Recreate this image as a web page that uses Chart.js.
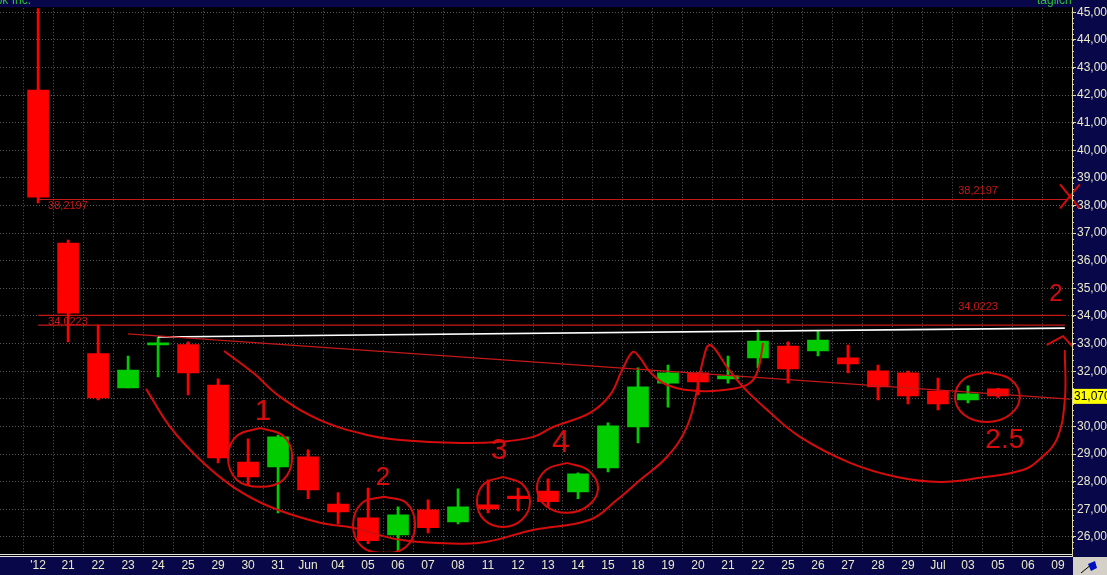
<!DOCTYPE html>
<html>
<head>
<meta charset="utf-8">
<script src="https://cdn.jsdelivr.net/npm/chart.js@4.4.1/dist/chart.umd.min.js"></script>
<style>
  html,body{margin:0;padding:0;background:#000;overflow:hidden}
  canvas{display:block}
</style>
</head>
<body>
<canvas id="chart" width="1107" height="575"></canvas>
<script>
// ── DATOS ───────────────────────────────────────────────
const X_LABELS = ["'12",'21','22','23','24','25','29','30','31','Jun','04','05','06','07','08','11','12','13','14','15',
                  '18','19','20','21','22','25','26','27','28','29','Jul','03','05','06','09'];

const OPEN  = [42.18,36.64,32.64,31.39,32.95,32.96,31.50,28.71,28.53,28.90,27.19,26.69,26.07,26.98,26.54,27.16,27.48,
               27.66,27.63,28.50,29.98,31.57,31.94,31.72,32.48,32.91,32.73,32.48,32.01,31.94,31.28,30.96,31.36];
const HIGH  = [45.15,36.75,33.67,32.55,33.24,33.06,31.72,29.55,29.69,29.15,27.60,27.77,27.09,27.34,27.74,28.06,27.77,
               28.10,28.32,30.13,32.12,32.22,31.96,32.55,33.49,33.06,33.46,32.95,32.22,32.00,31.75,31.47,31.38];
const LOW   = [38.10,33.06,30.96,31.39,31.79,31.14,28.68,27.88,26.87,27.38,26.47,25.75,25.49,26.14,26.47,26.87,26.94,
               27.09,27.38,28.35,29.40,30.70,31.15,31.57,32.12,31.57,32.55,31.94,30.96,30.81,30.60,30.85,31.05];
const CLOSE = [38.30,34.10,31.03,32.04,33.03,31.94,28.86,28.17,29.62,27.70,26.90,25.86,26.80,26.33,27.09,27.01,27.38,
               27.27,28.28,30.02,31.43,31.94,31.61,31.83,33.09,32.08,33.13,32.26,31.43,31.10,30.81,31.18,31.10];

const Y_TICKS = [26,27,28,29,30,31,32,33,34,35,36,37,38,39,40,41,42,43,44,45];
const X_MIN = -1.27, X_MAX = 34.47;
const Y_MIN = 25.45, Y_MAX = 45.15;

const FIB_LEVELS   = [38.2197, 34.0223];
const RESIST_LEVEL = 33.67;
const LAST_PRICE   = 31.07;

// líneas dibujadas (índice de vela, precio)
const TREND_RED   = [[3.0,33.35],[34.4,30.99]];
const TREND_WHITE = [[4.0,33.24],[34.23,33.56]];

const CUP_UPPER = [[6.2,32.73],[7.17,31.94],[8.07,31.07],[9.4,30.23],[10.97,29.69],[12.07,29.51],[14.07,29.40],
  [15.4,29.44],[16.5,29.62],[17.17,29.98],[18.4,30.49],[19.07,31.14],[19.47,32.04],[19.83,32.70],[20.07,32.48],
  [20.4,31.97],[20.97,31.50],[22.07,31.28],[23.17,31.36],[23.73,31.57],[24.0,32.04],[24.17,33.02]];
const CUP_LOWER = [[3.6,31.36],[4.4,29.98],[5.4,28.79],[6.5,27.81],[7.73,27.09],[9.4,26.51],[10.5,26.33],[12.07,25.89],
  [14.07,25.75],[14.97,25.82],[16.5,26.25],[18.4,26.62],[19.3,27.34],[20.07,28.06],[20.97,28.90],[21.63,29.98],
  [21.97,31.32],[22.17,32.41],[22.4,32.95],[22.97,32.15],[23.5,31.43],[24.3,30.60],[25.4,29.62],[27.07,28.68],
  [28.63,28.17],[30.07,27.99],[31.4,28.14],[32.83,28.42],[33.4,28.82],[33.97,29.55],[34.23,30.96],[34.23,32.77]];
const ARROW   = [[33.63,32.95],[34.17,33.27],[34.5,32.88]];
const CROSS_A = [[34.07,38.77],[34.73,37.90]];
const CROSS_B = [[34.73,38.77],[34.07,37.90]];

const RING_1 = [[7.4,29.94],[8.17,29.66],[8.47,28.90],[8.17,28.06],[7.4,27.81],[6.63,28.06],[6.33,28.90],[6.63,29.66],[7.4,29.94]];
const RING_2 = [[11.53,27.45],[12.27,27.23],[12.57,26.43],[12.27,25.64],[11.53,25.42],[10.8,25.64],[10.5,26.43],[10.8,27.23],[11.53,27.45]];
const RING_3 = [[15.5,28.17],[16.13,27.92],[16.4,27.27],[16.13,26.62],[15.5,26.36],[14.87,26.62],[14.63,27.27],[14.87,27.92],[15.5,28.17]];
const RING_4 = [[17.63,28.68],[18.33,28.42],[18.67,27.77],[18.33,27.12],[17.63,26.87],[16.93,27.12],[16.63,27.77],[16.93,28.42],[17.63,28.68]];
const RING_5 = [[31.63,31.97],[32.4,31.72],[32.73,31.07],[32.4,30.42],[31.63,30.16],[30.87,30.42],[30.57,31.07],[30.87,31.72],[31.63,31.97]];

const NOTE_TEXT = ['1','2','3','4','2.5','2'];
const NOTE_X    = [7.5, 11.5, 15.37, 17.43, 32.23, 33.93];
const NOTE_Y    = [30.52, 28.14, 29.11, 29.40, 29.51, 34.79];
const NOTE_SIZE = [30, 26, 30, 32, 28, 24];

// ── ESTILO ──────────────────────────────────────────────
const NAVY  = '#07074a';
const UP    = '#00cc00';
const DOWN  = '#ff0000';
const INK   = '#d60c0c';
const FIBC  = '#c41818';
const AXTXT = '#ecebc8';
const FONT  = 'Liberation Sans, Arial, sans-serif';

Chart.defaults.font.family = FONT;

// ── UTILS ───────────────────────────────────────────────
const pts = a => a.map(([x,y]) => ({ x, y }));
const fmt = v => v.toFixed(3).replace('.', ',');
const fmtFib = v => v.toFixed(4).replace('.', ',');
function stroke(arr, extra){
  return Object.assign({ type:'line', data:pts(arr), borderColor:INK, borderWidth:2, pointRadius:0,
                         tension:0.4, fill:false, order:0 }, extra || {});
}
function level(v, until){
  return { type:'line', data:[{x:0,y:v},{x:until,y:v}], borderColor:FIBC, borderWidth:1.2,
           pointRadius:0, tension:0, order:4 };
}

const candleColor = OPEN.map((o,i) => CLOSE[i] >= o ? UP : DOWN);
const bodies = OPEN.map((o,i) => ({ x:i, y:[Math.min(o,CLOSE[i]), Math.max(o,CLOSE[i])] }));
const wicks  = OPEN.map((o,i) => ({ x:i, y:[LOW[i], HIGH[i]] }));

// ── PLUGIN: marco, etiquetas, notas ─────────────────────
const frame = {
  id:'frame',
  beforeDraw(chart){
    const { ctx, chartArea:a, width, height } = chart;
    ctx.save();
    ctx.fillStyle = '#000';
    ctx.fillRect(0, 0, width, height);
    ctx.fillStyle = NAVY;
    ctx.fillRect(0, 0, width, a.top - 1);
    ctx.fillRect(a.right, 0, width - a.right, height);
    ctx.fillRect(0, a.bottom + 5, width, height - a.bottom - 5);
    // título recortado
    ctx.fillStyle = '#2fc02f';
    ctx.font = '12px ' + FONT;
    ctx.textBaseline = 'alphabetic';
    ctx.textAlign = 'right';
    ctx.fillText('Facebook Inc.', 31, 4);
    ctx.textAlign = 'left';
    ctx.fillText('täglich', 1037, 4);
    ctx.restore();
  },
  afterDatasetsDraw(chart){
    const { ctx } = chart;
    const xs = chart.scales.x, ys = chart.scales.y;
    ctx.save();
    ctx.font = '11px ' + FONT;
    ctx.fillStyle = FIBC;
    FIB_LEVELS.forEach(v => {
      const y = ys.getPixelForValue(v);
      ctx.textAlign = 'left'; ctx.textBaseline = 'top';
      ctx.fillText(fmtFib(v), xs.getPixelForValue(0) + 10, y + 1);
      ctx.textAlign = 'right'; ctx.textBaseline = 'bottom';
      ctx.fillText(fmtFib(v), xs.getPixelForValue(32), y - 3);
    });
    ctx.fillStyle = INK;
    ctx.textAlign = 'center'; ctx.textBaseline = 'middle';
    NOTE_TEXT.forEach((t,i) => {
      ctx.font = NOTE_SIZE[i] + 'px ' + FONT;
      ctx.fillText(t, xs.getPixelForValue(NOTE_X[i]), ys.getPixelForValue(NOTE_Y[i]));
    });
    ctx.restore();
  },
  afterDraw(chart){
    const { ctx, chartArea:a, width, height } = chart;
    const ys = chart.scales.y;
    ctx.save();
    // borde del eje de precios
    ctx.strokeStyle = '#dcd8a0';
    ctx.lineWidth = 1;
    ctx.beginPath();
    ctx.moveTo(a.right + 0.5, a.top - 1); ctx.lineTo(a.right + 0.5, a.bottom + 5);
    ctx.stroke();
    // subdivisiones
    ctx.beginPath();
    for (let k = Math.ceil(Y_MIN * 5); k <= Math.floor(Y_MAX * 5); k++) {
      const y = Math.round(ys.getPixelForValue(k / 5)) + 0.5;
      ctx.moveTo(a.right, y); ctx.lineTo(a.right + 2, y);
    }
    ctx.stroke();
    // doble línea del eje de fechas
    ctx.strokeStyle = '#e4e4e4';
    ctx.beginPath();
    ctx.moveTo(0, a.bottom + 2.5); ctx.lineTo(a.right, a.bottom + 2.5);
    ctx.moveTo(0, a.bottom + 4.5); ctx.lineTo(a.right, a.bottom + 4.5);
    ctx.stroke();
    // último precio
    const py = ys.getPixelForValue(LAST_PRICE);
    ctx.fillStyle = '#ffff00';
    ctx.fillRect(a.right + 1, py - 8, width - a.right - 1, 15);
    ctx.fillStyle = '#000';
    ctx.font = '12px ' + FONT;
    ctx.textAlign = 'left'; ctx.textBaseline = 'middle';
    ctx.fillText(fmt(LAST_PRICE), a.right + 2, py);
    // esquina
    ctx.fillStyle = '#d4d0c8';
    ctx.fillRect(a.right + 1, a.bottom + 5, width - a.right - 1, height - a.bottom - 5);
    ctx.strokeStyle = '#000';
    ctx.beginPath(); ctx.moveTo(a.right + 9, height - 2); ctx.lineTo(a.right + 20, a.bottom + 12); ctx.stroke();
    ctx.fillStyle = '#0010c0';
    ctx.beginPath();
    ctx.moveTo(a.right + 16, a.bottom + 12); ctx.lineTo(a.right + 23, a.bottom + 9);
    ctx.lineTo(a.right + 25, a.bottom + 16); ctx.lineTo(a.right + 19, a.bottom + 19);
    ctx.closePath(); ctx.fill();
    ctx.restore();
  }
};

// ── GRÁFICO ─────────────────────────────────────────────
new Chart(document.getElementById('chart'), {
  type:'bar',
  data:{
    datasets:[
      { type:'bar', data:wicks,  backgroundColor:candleColor, barThickness:2,  maxBarThickness:2,
        grouped:false, borderWidth:0, order:3 },
      { type:'bar', data:bodies, backgroundColor:candleColor, barThickness:21, maxBarThickness:21,
        grouped:false, borderWidth:0, order:2 },
      level(FIB_LEVELS[0], 34.33),
      level(FIB_LEVELS[1], 34.23),
      level(RESIST_LEVEL, 34.23),
      stroke(TREND_RED,   { borderWidth:1.2, borderColor:FIBC, tension:0, order:1 }),
      stroke(TREND_WHITE, { borderWidth:1.6, borderColor:'#ffffff', tension:0, order:1 }),
      stroke(CUP_UPPER),
      stroke(CUP_LOWER),
      stroke(ARROW,   { tension:0, clip:false }),
      stroke(CROSS_A, { tension:0, clip:false }),
      stroke(CROSS_B, { tension:0, clip:false }),
      stroke(RING_1), stroke(RING_2), stroke(RING_3), stroke(RING_4), stroke(RING_5)
    ]
  },
  options:{
    responsive:false,
    animation:false,
    layout:{ padding:{ top:8, left:0, right:0, bottom:0 } },
    plugins:{ legend:{ display:false }, tooltip:{ enabled:false } },
    scales:{
      x:{
        type:'linear', min:X_MIN, max:X_MAX, offset:false,
        afterBuildTicks: s => { s.ticks = X_LABELS.map((l,i) => ({ value:i })); },
        afterFit: s => { s.height = 23; },
        ticks:{ callback: v => X_LABELS[v] ?? '', color:AXTXT, font:{ size:12 }, padding:6,
                autoSkip:false, maxRotation:0, minRotation:0 },
        grid:{ color:'#585858', drawTicks:false, lineWidth:1 },
        border:{ display:false, dash:[1,2] }
      },
      y:{
        position:'right', min:Y_MIN, max:Y_MAX,
        afterBuildTicks: s => { s.ticks = Y_TICKS.map(v => ({ value:v })); },
        afterFit: s => { s.width = 35; },
        ticks:{ callback: v => fmt(v), color:AXTXT, font:{ size:12 }, padding:1 },
        grid:{ color:'#585858', lineWidth:1, tickColor:'#dcd8a0', tickLength:4, tickBorderDash:[] },
        border:{ display:false, dash:[1,2] }
      }
    }
  },
  plugins:[frame]
});
</script>
</body>
</html>
